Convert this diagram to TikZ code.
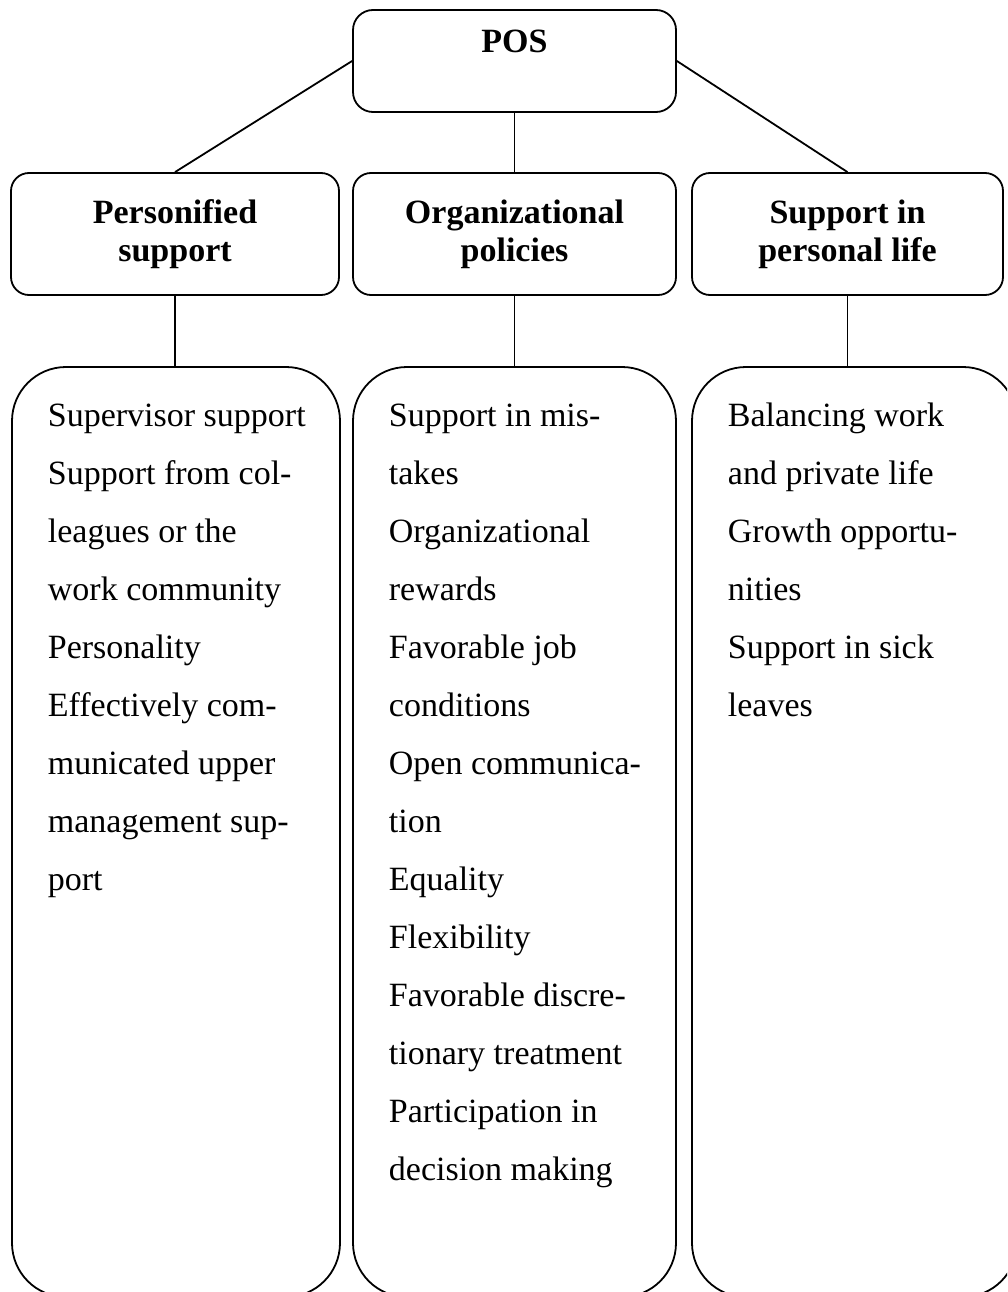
\documentclass[tikz,border=0pt]{standalone}
\usepackage{fontspec}
\setmainfont{Liberation Serif}
\begin{document}
\begin{tikzpicture}[x=1pt,y=-1pt,
  line width=1.8pt,
  topbox/.style={draw,rounded corners=20pt,inner sep=0pt,minimum width=323pt,
    minimum height=102pt,font=\bfseries\fontsize{34}{38}\selectfont,
    text height=23pt,text depth=39pt},
  headbox/.style={draw,rounded corners=18pt,inner sep=0pt,minimum height=122pt,
    align=center,font=\bfseries\fontsize{34}{38}\selectfont},
  listbox/.style={draw,rounded corners=54pt,inner sep=0pt,minimum height=930pt},
  listtext/.style={anchor=north west,inner sep=0pt,align=left,
    font=\fontsize{34}{58}\selectfont}]
\useasboundingbox (0,0) rectangle (1007,1292);
\clip (0,0) rectangle (1007,1292);

% root
\node[topbox] (pos) at (514.5,61) {POS};

% second level
\node[headbox,minimum width=328pt] (h1) at (175,234) {Personified\\support};
\node[headbox,minimum width=323pt] (h2) at (514.5,234) {Organizational\\policies};
\node[headbox,minimum width=311pt] (h3) at (847.5,234) {Support in\\personal life};

% third level
\node[listbox,minimum width=328pt] (b1) at (176,832) {};
\node[listbox,minimum width=323pt] (b2) at (514.5,832) {};
\node[listbox,minimum width=325pt] (b3) at (854.5,832) {};

% connectors
\draw (pos.west) -- (h1.north);
\draw (pos.south) -- (h2.north);
\draw (pos.east) -- (h3.north);
\draw (h1.south) -- (h1.south |- b1.north);
\draw (h2.south) -- (h2.south |- b2.north);
\draw (h3.south) -- (h3.south |- b3.north);

% item lists
\node[listtext] (t1) at (47,385) {\strut Supervisor support\\Support from col-\\leagues or the\\work community\\Personality\\Effectively com-\\municated upper\\management sup-\\port};
\node[listtext] (t2) at (388,385) {\strut Support in mis-\\takes\\Organizational\\rewards\\Favorable job\\conditions\\Open communica-\\tion\\Equality\\Flexibility\\Favorable discre-\\tionary treatment\\Participation in\\decision making};
\node[listtext] (t3) at (727,385) {\strut Balancing work\\and private life\\Growth opportu-\\nities\\Support in sick\\leaves};
\end{tikzpicture}
\end{document}
